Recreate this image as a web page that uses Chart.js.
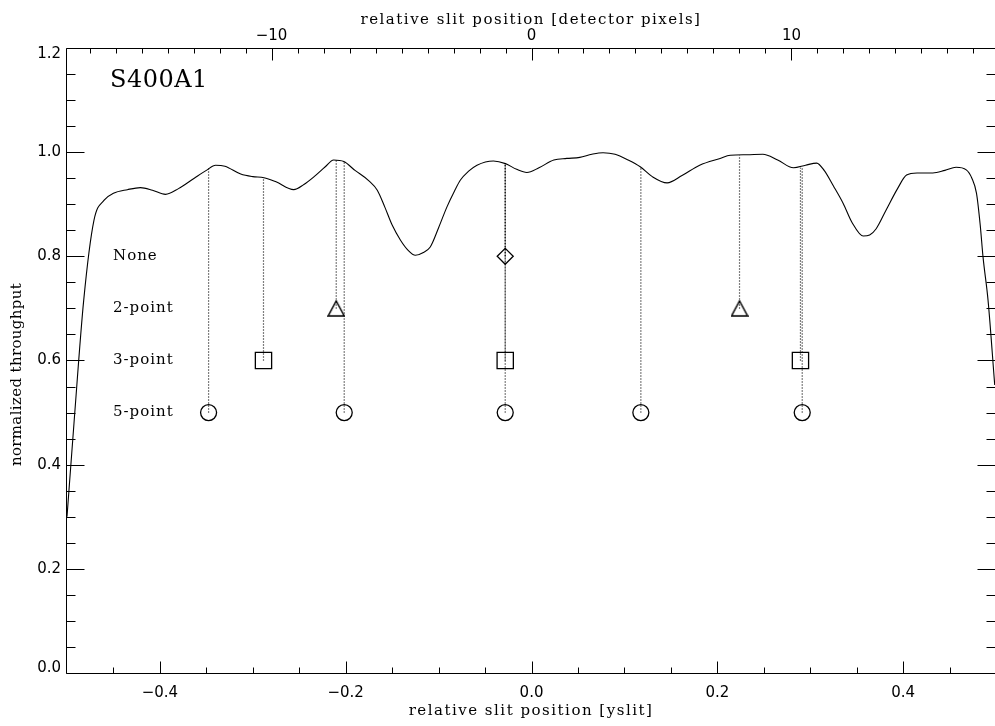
<!DOCTYPE html>
<html>
<head>
<meta charset="utf-8">
<title>S400A1 throughput</title>
<script src="https://cdn.jsdelivr.net/npm/chart.js@4.4.0/dist/chart.umd.min.js"></script>
<style>
  html, body { margin: 0; padding: 0; background: #fff; overflow: hidden; }
  canvas { display: block; }
</style>
</head>
<body>
<canvas id="chart" width="995" height="726"></canvas>
<script>
// throughput curve (yslit, normalized throughput)
const curveX = [-0.500, -0.4925, -0.482, -0.471, -0.460, -0.450, -0.435, -0.421, -0.408, -0.394,
  -0.380, -0.363, -0.350, -0.340, -0.330, -0.313, -0.300, -0.288, -0.275, -0.256,
  -0.245, -0.234, -0.222, -0.213, -0.202, -0.190, -0.175, -0.166, -0.158, -0.150,
  -0.141, -0.133, -0.125, -0.117, -0.109, -0.100, -0.091, -0.083, -0.0767, -0.068,
  -0.0587, -0.041, -0.028, -0.016, -0.005, 0.008, 0.024, 0.038, 0.052, 0.065,
  0.077, 0.090, 0.104, 0.117, 0.130, 0.146, 0.162, 0.181, 0.203, 0.214,
  0.232, 0.249, 0.265, 0.282, 0.295, 0.307, 0.315, 0.325, 0.3355, 0.345,
  0.357, 0.364, 0.371, 0.382, 0.394, 0.4037, 0.415, 0.432, 0.445, 0.457,
  0.468, 0.474, 0.479, 0.483, 0.486, 0.4914, 0.4986];
const curveY = [0.300, 0.479, 0.716, 0.869, 0.908, 0.921, 0.928, 0.932, 0.927, 0.919,
  0.930, 0.950, 0.965, 0.975, 0.973, 0.958, 0.953, 0.951, 0.943, 0.928,
  0.938, 0.953, 0.972, 0.985, 0.982, 0.965, 0.945, 0.927, 0.895, 0.860,
  0.831, 0.812, 0.802, 0.807, 0.818, 0.855, 0.895, 0.925, 0.946, 0.963,
  0.975, 0.983, 0.978, 0.967, 0.961, 0.970, 0.985, 0.988, 0.990, 0.996,
  0.999, 0.996, 0.985, 0.972, 0.953, 0.941, 0.955, 0.975, 0.988, 0.994,
  0.995, 0.996, 0.985, 0.970, 0.975, 0.979, 0.965, 0.935, 0.9015, 0.865,
  0.839, 0.841, 0.853, 0.890, 0.930, 0.956, 0.960, 0.960, 0.965, 0.971,
  0.966, 0.950, 0.921, 0.860, 0.799, 0.716, 0.553];

// centering methods: label, marker row, marker positions and curve value above each
const methodNames = ['None', '2-point', '3-point', '5-point'];
const methodLevels = [0.8, 0.7, 0.6, 0.5];
const noneX = [-0.0283];
const noneTop = [0.978];
const twoPointX = [-0.2102, 0.2239];
const twoPointTop = [0.985, 0.994];
const threePointX = [-0.2885, -0.0283, 0.2895];
const threePointTop = [0.950, 0.978, 0.970];
const fivePointX = [-0.3476, -0.2016, -0.0283, 0.1177, 0.2914];
const fivePointTop = [0.971, 0.982, 0.978, 0.972, 0.970];

// axes
const xTicks = [-0.4, -0.2, 0, 0.2, 0.4];
const yTicks = [0, 0.2, 0.4, 0.6, 0.8, 1.0, 1.2];
const topTicks = [-10, 0, 10];
const pixPerYslit = 35.74;   // detector pixels per unit of yslit
const xMin = -0.5, xMax = 0.4989;
const xTitle = 'relative slit position [yslit]';
const topTitle = 'relative slit position [detector pixels]';
const yTitle = 'normalized throughput';
const plotLabel = 'S400A1';

const SERIF = "'DejaVu Serif', 'Liberation Serif', serif";
const SANS = "'DejaVu Sans', 'Liberation Sans', sans-serif";

// open triangle centred on its box, like the IDL symbol
function triangleSymbol(w, h) {
  const c = document.createElement('canvas');
  c.width = w + 2; c.height = h + 2;
  const g = c.getContext('2d');
  g.strokeStyle = '#000';
  g.lineWidth = 1.5;
  g.beginPath();
  g.moveTo(c.width / 2, 1);
  g.lineTo(c.width - 1, c.height - 1);
  g.lineTo(1, c.height - 1);
  g.closePath();
  g.stroke();
  return c;
}

const groups = [
  { xs: noneX, tops: noneTop, style: 'rectRot', radius: 8 },
  { xs: twoPointX, tops: twoPointTop, style: triangleSymbol(16, 15), radius: 8 },
  { xs: threePointX, tops: threePointTop, style: 'rect', radius: 11.5 },
  { xs: fivePointX, tops: fivePointTop, style: 'circle', radius: 8 }
];

const datasets = [{
  data: curveX.map((x, i) => ({ x: x, y: curveY[i] })),
  borderColor: '#000',
  borderWidth: 1.1,
  pointRadius: 0,
  cubicInterpolationMode: 'monotone',
  fill: false
}];

groups.forEach((g, k) => {
  const level = methodLevels[k];
  g.xs.forEach((x, i) => {
    // dotted drop line from the marker up to the curve
    datasets.push({
      data: [{ x: x, y: level }, { x: x, y: g.tops[i] }],
      borderColor: '#000',
      borderWidth: 1.2,
      borderDash: [1, 2],
      pointRadius: 0,
      fill: false
    });
  });
  datasets.push({
    data: g.xs.map(x => ({ x: x, y: level })),
    showLine: false,
    pointStyle: g.style,
    pointRadius: g.radius,
    pointBorderColor: '#000',
    pointBackgroundColor: 'rgba(0,0,0,0)',
    pointBorderWidth: 1.3
  });
});

const minus = v => (v < 0 ? '\u2212' : '') + Math.abs(v);
const fmt1 = v => (v < 0 ? '\u2212' : '') + Math.abs(v).toFixed(1);

function text(ctx, str, x, y, font, align, spacing, rot) {
  ctx.save();
  ctx.font = font;
  ctx.textAlign = align;
  ctx.textBaseline = 'middle';
  if ('letterSpacing' in ctx) ctx.letterSpacing = (spacing || 0) + 'px';
  ctx.translate(x, y);
  if (rot) ctx.rotate(rot);
  ctx.fillText(str, 0, 0);
  ctx.restore();
}

// IDL style axes: box with inward ticks, labels and the text inside the plot
const idlAxes = {
  id: 'idlAxes',
  afterDraw(chart) {
    const { ctx, chartArea: a, scales } = chart;
    const sx = scales.x, sy = scales.y, st = scales.x2;
    const L = Math.floor(a.left) - 0.5, R = Math.round(a.right) - 0.5;
    const T = Math.round(a.top) + 0.5, B = Math.round(a.bottom) + 0.5;
    const px = v => Math.round(sx.getPixelForValue(v)) + 0.5;
    const py = v => Math.round(sy.getPixelForValue(v)) + 0.5;
    const pt = v => Math.round(st.getPixelForValue(v)) + 0.5;

    ctx.save();
    ctx.strokeStyle = '#000';
    ctx.lineWidth = 1;
    ctx.beginPath();
    ctx.moveTo(R + 2, T); ctx.lineTo(L, T); ctx.lineTo(L, B); ctx.lineTo(R + 2, B);
    for (let i = 0; i <= 24; i++) {
      const y = py(i * 0.05);
      const len = i % 4 === 0 ? 18 : 9;
      ctx.moveTo(L, y); ctx.lineTo(L + len, y);
      ctx.moveTo(R + 1, y); ctx.lineTo(R + 1 - len, y);
    }
    for (let i = -9; i <= 9; i++) {
      const x = px(i * 0.05);
      const len = i % 4 === 0 ? 12 : 6;
      ctx.moveTo(x, B); ctx.lineTo(x, B - len);
    }
    for (let n = Math.ceil(st.min); n <= Math.floor(st.max); n++) {
      const x = pt(n);
      const len = n % 10 === 0 ? 12 : 5;
      ctx.moveTo(x, T); ctx.lineTo(x, T + len);
    }
    ctx.stroke();
    ctx.restore();

    ctx.fillStyle = '#000';
    const num = '15px ' + SANS;
    yTicks.forEach(v => {
      const y = Math.min(Math.max(sy.getPixelForValue(v), a.top + 6), a.bottom - 5);
      text(ctx, fmt1(v), a.left - 6, y, num, 'right', 0);
    });
    xTicks.forEach(v => text(ctx, fmt1(v), sx.getPixelForValue(v), a.bottom + 20, num, 'center', 0));
    topTicks.forEach(v => text(ctx, minus(v), st.getPixelForValue(v), a.top - 12, num, 'center', 0));

    const lab = '15px ' + SERIF;
    text(ctx, xTitle, (a.left + a.right) / 2, a.bottom + 38, lab, 'center', 1.5);
    text(ctx, topTitle, (a.left + a.right) / 2, a.top - 28, lab, 'center', 1.5);
    text(ctx, yTitle, 17, (a.top + a.bottom) / 2 + 14, lab, 'center', 0.35, -Math.PI / 2);

    text(ctx, plotLabel, a.left + 43, a.top + 33, '24px ' + SERIF, 'left', 0.5);
    methodNames.forEach((name, k) => {
      text(ctx, name, a.left + 46, sy.getPixelForValue(methodLevels[k]), lab, 'left', 1);
    });
  }
};

const fixedAxis = size => s => {
  if (s.isHorizontal()) { s.height = size; s.paddingLeft = 0; s.paddingRight = 0; }
  else { s.width = size; s.paddingTop = 0; s.paddingBottom = 0; }
};

new Chart(document.getElementById('chart'), {
  type: 'line',
  data: { datasets: datasets },
  plugins: [idlAxes],
  options: {
    responsive: false,
    animation: false,
    events: [],
    layout: { padding: 0, autoPadding: false },
    plugins: { legend: { display: false }, tooltip: { enabled: false } },
    scales: {
      x: {
        type: 'linear', position: 'bottom', min: xMin, max: xMax,
        afterFit: fixedAxis(53),
        grid: { display: false }, border: { display: false },
        ticks: { display: false }
      },
      x2: {
        type: 'linear', position: 'top',
        min: xMin * pixPerYslit, max: xMax * pixPerYslit,
        afterFit: fixedAxis(48),
        grid: { display: false }, border: { display: false },
        ticks: { display: false }
      },
      y: {
        type: 'linear', position: 'left', min: 0, max: 1.2,
        afterFit: fixedAxis(67),
        grid: { display: false }, border: { display: false },
        ticks: { display: false }
      }
    }
  }
});
</script>
</body>
</html>
